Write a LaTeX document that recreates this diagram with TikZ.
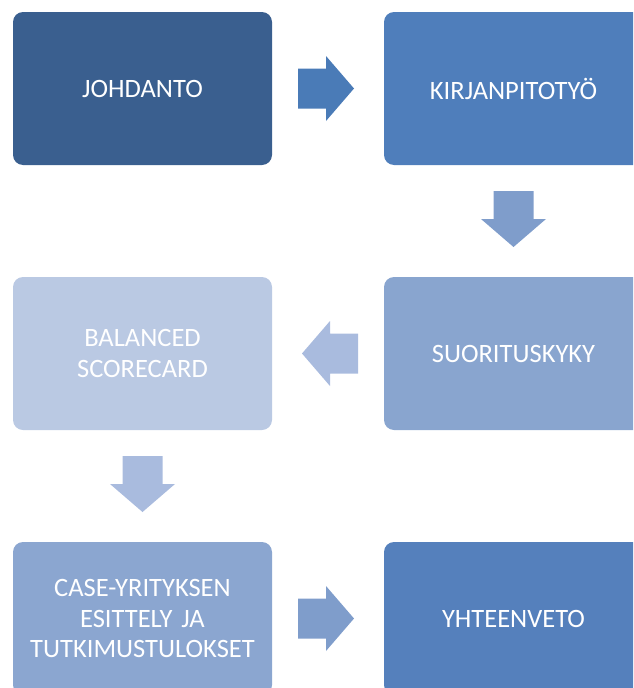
\documentclass[tikz,border=0pt]{standalone}
\usepackage{fontspec}
\setmainfont{Carlito}
\usetikzlibrary{calc}
\definecolor{johdcol}{HTML}{3A5F8F}
\definecolor{kirjcol}{HTML}{4F7EBB}
\definecolor{suorcol}{HTML}{89A5CF}
\definecolor{balcol}{HTML}{BAC9E3}
\definecolor{casecol}{HTML}{8BA6D0}
\definecolor{yhtcol}{HTML}{5580BC}
\definecolor{arrA}{HTML}{4A7BB7}
\definecolor{arrB}{HTML}{7F9DCB}
\definecolor{arrC}{HTML}{A9BBDE}
\tikzset{
  stagebox/.style={rounded corners=10pt, minimum width=259pt, minimum height=153pt,
    inner sep=0pt, text=white, align=center, text width=255pt,
    font=\fontsize{26.5}{30.5}\selectfont},
}
% block arrow: centre, angle, colour
\newcommand{\blockarr}[3]{\fill[#3, shift={(#1)}, rotate=#2]
  (-30,-20) -- (-2,-20) -- (-2,-32.5) -- (26,0) -- (-2,32.5) -- (-2,20) -- (-30,20) -- cycle;}
\begin{document}
\begin{tikzpicture}[x=1pt, y=-1pt]
\useasboundingbox (0,0) rectangle (633,688);
\clip (0,0) rectangle (633,688);

\node[stagebox, fill=johdcol] (johd) at (142.5,88.5) {JOHDANTO};
\node[stagebox, fill=kirjcol] (kirja) at (513.5,88.5) {KIRJANPITOTYÖ};
\node[stagebox, fill=suorcol] (suor) at (513.5,353.5) {SUORITUSKYKY};
\node[stagebox, fill=balcol] (bal) at (142.5,353.5) {BALANCED\\SCORECARD};
\node[stagebox, fill=casecol] (case) at (142.5,618.5) {CASE-YRITYKSEN\\ESITTELY JA\\TUTKIMUSTULOKSET};
\node[stagebox, fill=yhtcol] (yht) at (513.5,618.5) {YHTEENVETO};

\coordinate (a1) at ($(johd.east)!0.5!(kirja.west)$);
\coordinate (a2) at ($(kirja.south)!0.5!(suor.north)$);
\coordinate (a3) at ($(suor.west)!0.5!(bal.east)$);
\coordinate (a4) at ($(bal.south)!0.5!(case.north)$);
\coordinate (a5) at ($(case.east)!0.5!(yht.west)$);

\blockarr{a1}{0}{arrA}
\blockarr{a2}{-90}{arrB}
\blockarr{a3}{180}{arrC}
\blockarr{a4}{-90}{arrC}
\blockarr{a5}{0}{arrB}
\end{tikzpicture}
\end{document}
